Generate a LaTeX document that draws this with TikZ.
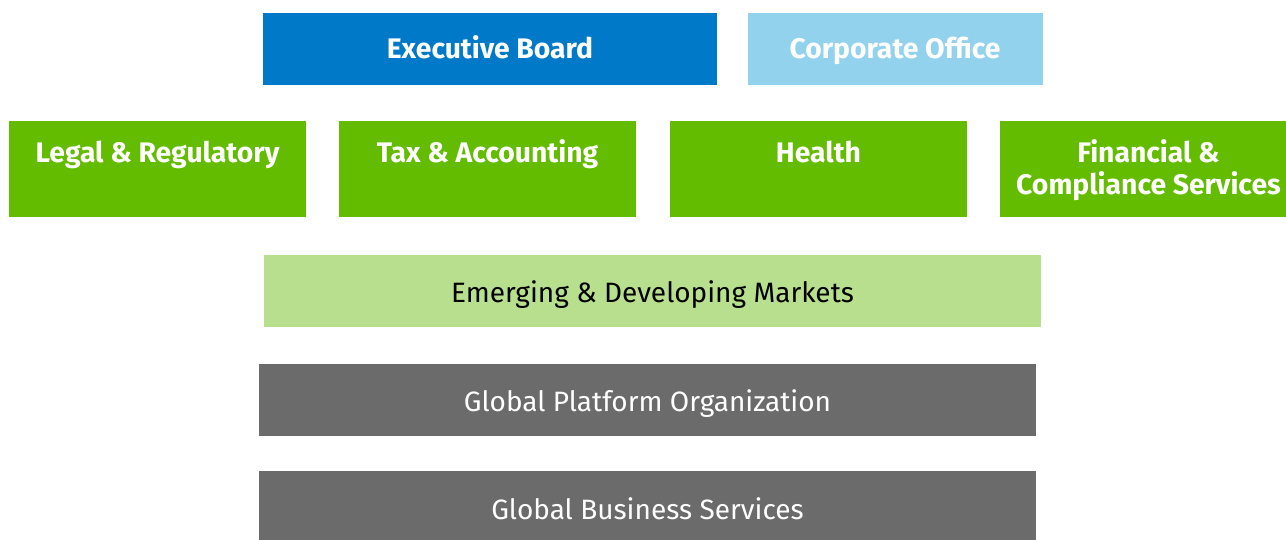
\documentclass[tikz,border=0pt]{standalone}
\usepackage{fontspec}
\setmainfont{Fira Sans}
\begin{document}
\begin{tikzpicture}[x=1pt,y=-1pt,
  lbl/.style={inner sep=0pt,anchor=base,font=\fontsize{28}{32}\selectfont},
  blbl/.style={lbl,font=\fontsize{28.3}{32}\selectfont\bfseries,text=white}]
\useasboundingbox (0,0) rectangle (1286,540);
\definecolor{exec}{RGB}{0,121,200}
\definecolor{corp}{RGB}{146,210,237}
\definecolor{grn}{RGB}{99,188,0}
\definecolor{lgrn}{RGB}{184,223,142}
\definecolor{gry}{RGB}{107,107,107}
\clip (0,0) rectangle (1286,540);
% top row
\fill[exec] (263,13) rectangle (717,85);
\fill[corp] (748,13) rectangle (1043,85);
\node[blbl] (eb) at (490,58.5) {Executive Board};
\node[blbl] (co) at (895,58.5) {Corporate Office};
% green row
\fill[grn] (9,121) rectangle (306,217);
\fill[grn] (339,121) rectangle (636,217);
\fill[grn] (670,121) rectangle (967,217);
\fill[grn] (1000,121) rectangle (1290,217);
\node[blbl] (lr) at (157.5,162.5) {Legal \& Regulatory};
\node[blbl] (ta) at (487.5,162.5) {Tax \& Accounting};
\node[blbl] (he) at (818.5,162.5) {Health};
\node[blbl] (fc1) at (1148.5,162.5) {Financial \&};
\node[blbl] (fc2) at (1148.5,194.5) {Compliance Services};
% lower bars
\fill[lgrn] (264,255) rectangle (1041,327);
\node[lbl] (em) at (652.5,303) {Emerging \& Developing Markets};
\fill[gry] (259,364) rectangle (1036,436);
\node[lbl,text=white] (gp) at (647.5,411) {Global Platform Organization};
\fill[gry] (259,471) rectangle (1036,545);
\node[lbl,text=white] (gb) at (647.5,519) {Global Business Services};
\end{tikzpicture}
\end{document}
